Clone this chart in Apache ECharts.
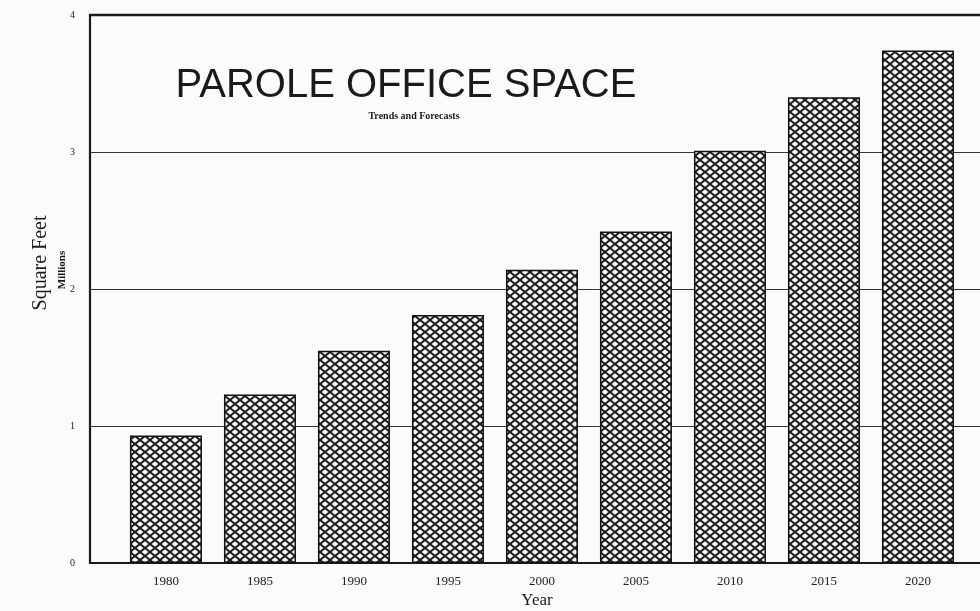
<!DOCTYPE html>
<html>
<head>
<meta charset="utf-8">
<script src="https://cdn.jsdelivr.net/npm/echarts@6/dist/echarts.min.js"></script>
<style>
html,body{margin:0;padding:0;background:#fbfbfa;}
#chart{width:980px;height:611px;}
</style>
</head>
<body>
<div id="chart"></div>
<script>
// ---- data ----
const years = [1980, 1985, 1990, 1995, 2000, 2005, 2010, 2015, 2020];
const officeSpace = [0.93, 1.23, 1.55, 1.81, 2.14, 2.42, 3.01, 3.40, 3.74]; // millions sq ft
const yTicks = [0, 1, 2, 3, 4];
const titleText = 'PAROLE OFFICE SPACE';
const subtitleText = 'Trends and Forecasts';
const yTitle = 'Square Feet';
const yUnit = 'Millions';
const xTitle = 'Year';

// ---- crosshatch pattern ----
function makeHatch() {
  const w = 10, h = 8;
  const c = document.createElement('canvas');
  c.width = w; c.height = h;
  const g = c.getContext('2d');
  g.fillStyle = '#f4f4f4';
  g.fillRect(0, 0, w, h);
  g.strokeStyle = '#1a1a1a';
  g.lineWidth = 1.9;
  g.beginPath();
  g.moveTo(-w, -h); g.lineTo(2 * w, 2 * h);
  g.moveTo(-w, 2 * h); g.lineTo(2 * w, -h);
  g.stroke();
  return c;
}
const hatch = makeHatch();

const chart = echarts.init(document.getElementById('chart'), null, {renderer: 'canvas'});
const serif = 'Liberation Serif, Times New Roman, serif';
const xMin = 1975.96, xMax = 2023.3;

chart.setOption({
  backgroundColor: '#fbfbfa',
  animation: false,
  grid: {left: 90, right: 0, top: 15, bottom: 48, show: false},
  xAxis: [{
    type: 'value',
    min: xMin,
    max: xMax,
    splitLine: {show: false},
    axisTick: {show: false},
    axisLine: {show: true, onZero: false, lineStyle: {color: '#1a1a1a', width: 2.2}},
    axisLabel: {
      customValues: years,
      formatter: v => String(v),
      color: '#222',
      fontFamily: serif,
      fontSize: 13,
      margin: 12
    }
  }, {
    type: 'value',
    position: 'top',
    min: xMin,
    max: xMax,
    splitLine: {show: false},
    axisTick: {show: false},
    axisLabel: {show: false},
    axisLine: {show: true, onZero: false, lineStyle: {color: '#1a1a1a', width: 2.4}}
  }],
  yAxis: {
    type: 'value',
    min: yTicks[0], max: yTicks[yTicks.length - 1], interval: 1,
    axisLine: {show: true, lineStyle: {color: '#1a1a1a', width: 2.2}},
    axisTick: {show: false},
    splitLine: {show: true, lineStyle: {color: '#333', width: 1}},
    axisLabel: {
      color: '#222', fontFamily: serif, fontSize: 10, margin: 15,
      formatter: v => String(v)
    }
  },
  graphic: [
    {
      type: 'text',
      style: {
        text: titleText,
        font: '40px "Liberation Sans", Arial, sans-serif',
        fill: '#1a1a1a', textAlign: 'center', textVerticalAlign: 'middle'
      },
      position: [406, 86]
    },
    {
      type: 'text',
      style: {
        text: subtitleText,
        font: 'bold 10px "Liberation Serif", serif',
        fill: '#1a1a1a', textAlign: 'center', textVerticalAlign: 'middle'
      },
      position: [414, 116]
    },
    {
      type: 'text',
      style: {
        text: xTitle,
        font: '17px "Liberation Serif", serif',
        fill: '#1a1a1a', textAlign: 'center', textVerticalAlign: 'middle'
      },
      position: [537, 601]
    },
    {
      type: 'text',
      rotation: Math.PI / 2,
      style: {
        text: yTitle,
        font: '20px "Liberation Serif", serif',
        fill: '#1a1a1a', textAlign: 'center', textVerticalAlign: 'middle'
      },
      position: [41, 263]
    },
    {
      type: 'text',
      rotation: Math.PI / 2,
      style: {
        text: yUnit,
        font: 'bold 11px "Liberation Serif", serif',
        fill: '#1a1a1a', textAlign: 'center', textVerticalAlign: 'middle'
      },
      position: [62, 270]
    }
  ],
  series: [{
    type: 'bar',
    data: years.map((y, i) => [y, officeSpace[i]]),
    barWidth: 72,
    itemStyle: {
      color: {image: hatch, repeat: 'repeat'},
      borderColor: '#111',
      borderWidth: 1.5
    }
  }]
});
</script>
</body>
</html>
